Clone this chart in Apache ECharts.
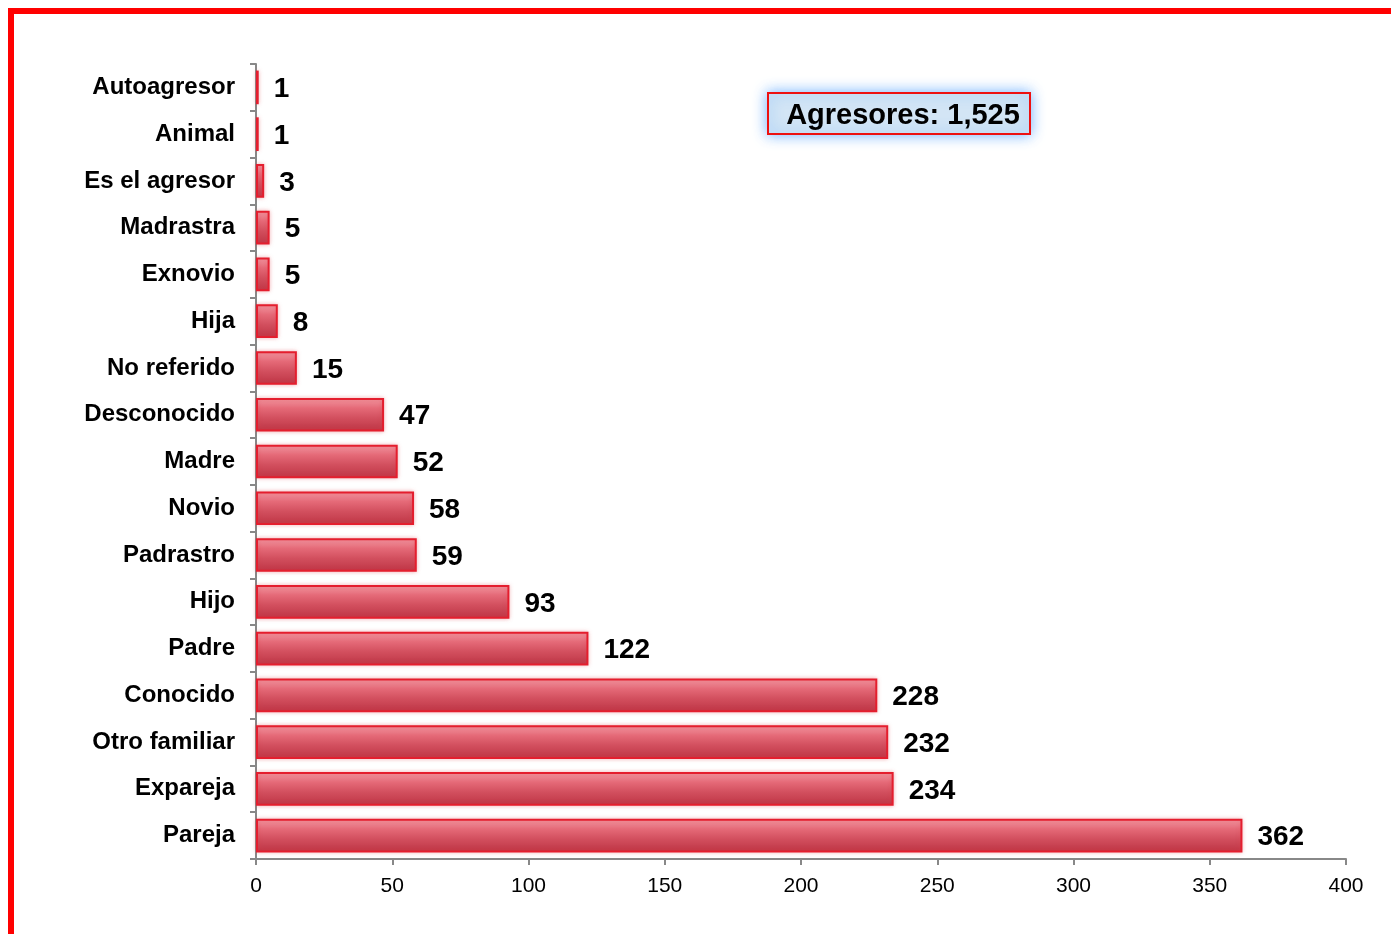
<!DOCTYPE html>
<html><head><meta charset="utf-8">
<script src="https://cdn.jsdelivr.net/npm/echarts@6/dist/echarts.min.js"></script>
<style>html,body{margin:0;padding:0;background:#fff}#c{width:1391px;height:934px}</style>
</head><body><div id="c"></div>
<script>
const categories = ['Autoagresor','Animal','Es el agresor','Madrastra','Exnovio','Hija','No referido','Desconocido','Madre','Novio','Padrastro','Hijo','Padre','Conocido','Otro familiar','Expareja','Pareja'];
const values = [1,1,3,5,5,8,15,47,52,58,59,93,122,228,232,234,362];
const xTicks = [0,50,100,150,200,250,300,350,400];
const totalLabel = 'Agresores: 1,525';

const chart = echarts.init(document.getElementById('c'));
const font = '"Liberation Sans", Arial, sans-serif';
chart.setOption({
  animation: false,
  textStyle: {fontFamily: font},
  grid: {left: 256, right: 45, top: 64, bottom: 75},
  xAxis: {
    type: 'value', min: xTicks[0], max: xTicks[xTicks.length-1], interval: 50,
    axisLine: {show: true, lineStyle: {color: '#888', width: 2}},
    axisTick: {show: true, length: 6, lineStyle: {color: '#888', width: 2}},
    splitLine: {show: false},
    axisLabel: {color: '#000', fontSize: 21, margin: 17, fontFamily: font}
  },
  yAxis: {
    type: 'category', data: categories, inverse: true,
    axisLine: {show: true, lineStyle: {color: '#888', width: 2}},
    axisTick: {show: true, length: 6, lineStyle: {color: '#888', width: 2}},
    axisLabel: {color: '#000', fontSize: 24, fontWeight: 'bold', margin: 21, fontFamily: font}
  },
  series: [{
    type: 'bar', data: values, barCategoryGap: '28%',
    itemStyle: {
      color: new echarts.graphic.LinearGradient(0,0,0,1,[
        {offset:0, color:'#f29aa4'},
        {offset:0.3, color:'#e56a78'},
        {offset:0.6, color:'#d24f5e'},
        {offset:1, color:'#bd3444'}
      ]),
      borderColor: '#e41e2e', borderWidth: 2,
      shadowColor: 'rgba(220,60,70,0.35)', shadowBlur: 4
    },
    label: {show: true, position: 'right', distance: 15, color: '#000', fontSize: 28, fontWeight: 'bold', fontFamily: font, offset: [0, 2]}
  }],
  graphic: [
    {type: 'rect', shape: {x: 11, y: 11, width: 1500, height: 1000}, style: {fill: 'none', stroke: '#ff0000', lineWidth: 6}, silent: true},
    {type: 'rect', shape: {x: 768, y: 93, width: 262, height: 41}, style: {fill: '#d3e5f5', stroke: '#ee1111', lineWidth: 2, shadowColor: 'rgba(80,160,255,0.8)', shadowBlur: 14}, z: 100},
    {type: 'text', x: 903, y: 116, style: {text: totalLabel, fill: '#000', fontSize: 29, fontWeight: 'bold', fontFamily: font, align: 'center', verticalAlign: 'middle'}, z: 101}
  ]
});
</script></body></html>
